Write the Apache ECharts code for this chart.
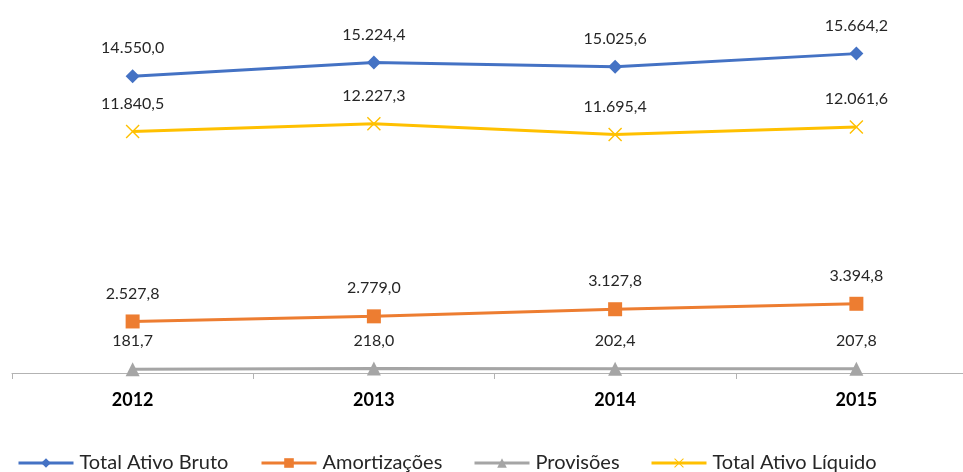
<!DOCTYPE html>
<html><head><meta charset="utf-8">
<script src="https://cdn.jsdelivr.net/npm/echarts@6/dist/echarts.min.js"></script>
<style>html,body{margin:0;padding:0;background:#fff;overflow:hidden;width:963px;height:472px}#c{width:985px;height:472px}</style>
</head><body><div id="c"></div>
<script>
const categories = ['2012','2013','2014','2015'];
const totalAtivoBruto = [14550.0, 15224.4, 15025.6, 15664.2];
const amortizacoes = [2527.8, 2779.0, 3127.8, 3394.8];
const provisoes = [181.7, 218.0, 202.4, 207.8];
const totalAtivoLiquido = [11840.5, 12227.3, 11695.4, 12061.6];
const seriesNames = ['Total Ativo Bruto','Amortizações','Provisões','Total Ativo Líquido'];

const FONT = 'Lato';
const xSym = 'path://M0,1L1,0L7,6L13,0L14,1L8,7L14,13L13,14L7,8L1,14L0,13L6,7Z';
function fmt(v){
  const parts = v.toFixed(1).split('.');
  return parts[0].replace(/\B(?=(\d{3})+(?!\d))/g,'.') + ',' + parts[1];
}
function mk(name, data, color, symbol, size){
  return {
    name, type:'line', data, symbol, symbolSize:size,
    lineStyle:{color, width:3}, itemStyle:{color},
    label:{show:true, position:'top', distance:13, color:'#262626', fontFamily:FONT, fontSize:16,
      formatter:p=>fmt(p.value)},
    emphasis:{disabled:true}, animation:false
  };
}
const legendLefts = [17, 260, 473, 650];
const legends = seriesNames.map((n,i)=>({
  left:legendLefts[i], top:453, padding:0, itemWidth:55, itemHeight:12, itemGap:0,
  lineStyle:{width:3},
  textStyle:{fontFamily:FONT, fontSize:20, color:'#262626', padding:[0,0,0,1]},
  data:[n]
}));
const chart = echarts.init(document.getElementById('c'), null, {renderer:'canvas'});
chart.setOption({
  backgroundColor:'#fff',
  animation:false,
  grid:{left:12, right:8, top:6, height:367},
  xAxis:{type:'category', data:categories, boundaryGap:true,
    axisLine:{lineStyle:{color:'#b3b3b3', width:1}},
    axisTick:{show:true, length:6, lineStyle:{color:'#b3b3b3'}},
    axisLabel:{fontFamily:FONT, fontSize:18, fontWeight:'bold', color:'#000', margin:18}},
  yAxis:{type:'value', min:0, max:18000, show:false, splitLine:{show:false}},
  legend:legends,
  series:[
    mk(seriesNames[0], totalAtivoBruto, '#4472C4', 'diamond', 14),
    mk(seriesNames[1], amortizacoes, '#ED7D31', 'rect', 14),
    mk(seriesNames[2], provisoes, '#A5A5A5', 'triangle', 14),
    mk(seriesNames[3], totalAtivoLiquido, '#FFC000', xSym, 14)
  ]
});
</script></body></html>
